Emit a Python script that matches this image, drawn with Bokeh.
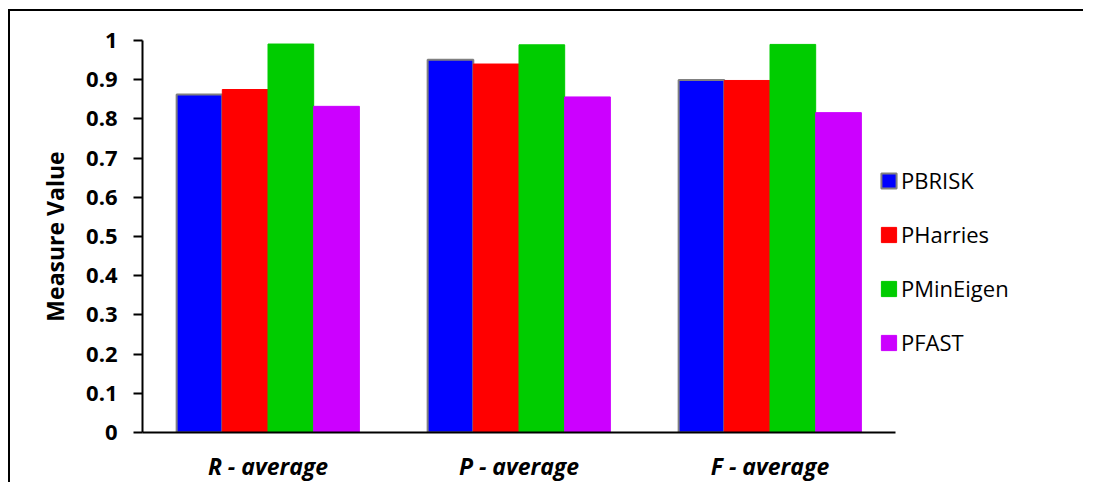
from bokeh.plotting import figure
from bokeh.models import Range1d, Legend, LegendItem, ColumnDataSource, FixedTicker
from bokeh.embed import file_html
from bokeh.resources import INLINE

categories = ["R - average", "P - average", "F - average"]
series = ["PBRISK", "PHarries", "PMinEigen", "PFAST"]
pbrisk = [0.862, 0.951, 0.899]
pharries = [0.875, 0.940, 0.898]
pmineigen = [0.991, 0.989, 0.990]
pfast = [0.832, 0.856, 0.816]
y_ticks = [0, 0.1, 0.2, 0.3, 0.4, 0.5, 0.6, 0.7, 0.8, 0.9, 1]
y_tick_labels = ["0", "0.1", "0.2", "0.3", "0.4", "0.5", "0.6", "0.7", "0.8", "0.9", "1"]

colors = ["#0000FF", "#FF0000", "#00CC00", "#CC00FF"]
outlines = ["#808080", "#FF0000", "#00CC00", "#CC00FF"]
offsets = [-0.273, -0.091, 0.091, 0.273]
bar_w = 0.182

centers = [i + 0.5 for i in range(len(categories))]
values = dict(PBRISK=pbrisk, PHarries=pharries, PMinEigen=pmineigen, PFAST=pfast)

FONT = "Open Sans"

FRAME_W = 916
UNIT_PX = 251
p = figure(x_range=Range1d(0, FRAME_W / UNIT_PX), y_range=Range1d(0, 1),
           frame_width=FRAME_W, frame_height=392,
           output_backend="svg", toolbar_location=None,
           min_border_left=132, min_border_right=30, min_border_top=29, min_border_bottom=52)
# chart border: only the left and top edges are visible in the reference
p.styles = {"position": "absolute", "left": "10px", "top": "11px",
            "box-shadow": "-2px -2px 0px 0px #000000",
            "clip-path": "inset(-2px 5px 0px -2px)"}
p.border_fill_color = "white"
p.outline_line_color = None
p.xgrid.grid_line_color = None
p.ygrid.grid_line_color = None

renderers = []
for name, col, oc, off in zip(series, colors, outlines, offsets):
    lw = 2 if name == "PBRISK" else 1
    s = ColumnDataSource(dict(x=[c + off for c in centers], top=values[name]))
    r = p.vbar(x="x", top="top", width=bar_w, bottom=0, source=s,
               fill_color=col, line_color=oc, line_width=lw)
    renderers.append(r)

legend = Legend(items=[LegendItem(label=n, renderers=[r]) for n, r in zip(series, renderers)],
                location=(737, 75), orientation="vertical")
legend.glyph_width = 19
legend.glyph_height = 19
legend.label_height = 19
legend.spacing = 24
legend.padding = 0
legend.margin = 0
legend.label_standoff = 3
legend.border_line_color = None
legend.background_fill_alpha = 0
legend.label_text_font = FONT
legend.label_text_font_size = "22px"
legend.label_text_color = "#000000"
p.add_layout(legend, "center")

# y axis
p.yaxis.ticker = FixedTicker(ticks=y_ticks)
p.yaxis.major_label_overrides = {t: l for t, l in zip(y_ticks, y_tick_labels)}
p.yaxis.axis_line_width = 2
p.yaxis.axis_line_color = "black"
p.yaxis.major_tick_line_width = 2
p.yaxis.major_tick_out = 9
p.yaxis.major_tick_in = 0
p.yaxis.minor_tick_line_color = None
p.yaxis.major_label_standoff = 16
p.yaxis.major_label_text_font = FONT
p.yaxis.major_label_text_font_style = "bold"
p.yaxis.major_label_text_font_size = "22px"
p.yaxis.major_label_text_color = "black"
p.yaxis.axis_label = "Measure Value"
p.yaxis.axis_label_text_font = FONT
p.yaxis.axis_label_text_font_style = "bold"
p.yaxis.axis_label_text_font_size = "23px"
p.yaxis.axis_label_text_color = "black"
p.yaxis.axis_label_standoff = 12

# x axis
p.xaxis.ticker = FixedTicker(ticks=centers)
p.xaxis.major_label_overrides = {c: n for c, n in zip(centers, categories)}
p.xaxis.bounds = (0, len(categories))
p.xaxis.axis_line_width = 2
p.xaxis.axis_line_color = "black"
p.xaxis.major_tick_line_color = None
p.xaxis.minor_tick_line_color = None
p.xaxis.major_tick_out = 0
p.xaxis.major_tick_in = 0
p.xaxis.major_label_standoff = 17
p.xaxis.major_label_text_font = FONT
p.xaxis.major_label_text_font_style = "bold italic"
p.xaxis.major_label_text_font_size = "23px"
p.xaxis.major_label_text_color = "black"

open("out.html", "w").write(file_html(p, INLINE))
